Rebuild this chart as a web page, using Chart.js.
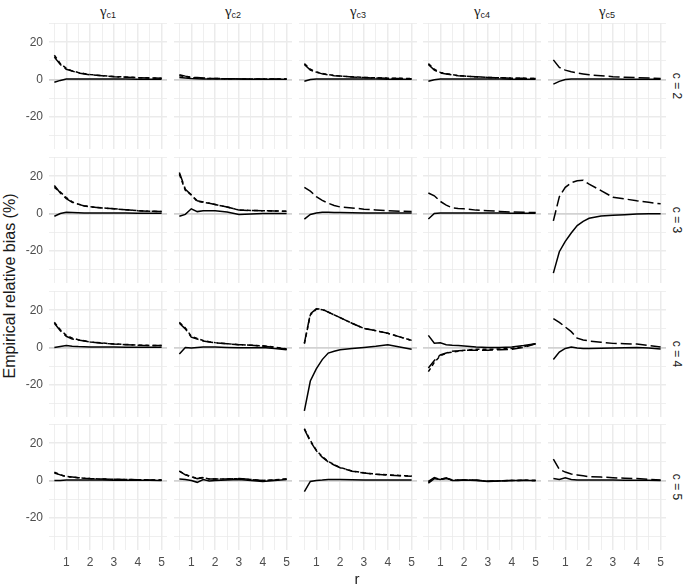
<!DOCTYPE html>
<html>
<head>
<meta charset="utf-8">
<script src="https://cdn.jsdelivr.net/npm/chart.js@4"></script>
<style>
  body { margin: 0; background: #fff; }
  #wrap { position: relative; width: 685px; height: 587px; font-family: "Liberation Sans", Arial, sans-serif; color: #1a1a1a; }
  .pane { position: absolute; }
  .strip { position: absolute; font-size: 12px; text-align: center; white-space: nowrap; }
  .gam { font-family: "Liberation Serif", serif; font-size: 15px; }
  .gam sub { font-family: "Liberation Sans", sans-serif; font-size: 9px; vertical-align: -2px; }
  .rot { transform: translate(-50%, -50%) rotate(90deg); }
  .ytitle { position: absolute; font-size: 16px; white-space: nowrap; transform: translate(-50%, -50%) rotate(-90deg); }
  .xtitle { position: absolute; font-size: 15px; transform: translate(-50%, -50%); }
</style>
</head>
<body>
<div id="wrap"></div>
<script>
// r grid shared by every panel
var R = [0.5, 0.75, 1, 1.25, 1.5, 1.75, 2, 2.5, 3, 3.5, 4, 4.5, 5];
var COL_SUBS = ['c1', 'c2', 'c3', 'c4', 'c5'];
var ROW_LABELS = ['c = 2', 'c = 3', 'c = 4', 'c = 5'];
var X_GRID = [0.5, 1, 1.5, 2, 2.5, 3, 3.5, 4, 4.5, 5];
var X_LABELS = [1, 2, 3, 4, 5];
var Y_GRID = [-30, -20, -10, 0, 10, 20, 30];
var Y_LABELS = [-20, 0, 20];

// one array per row (c), one entry per column (gamma_c1..gamma_c5)
var solidC2 = [
  [-1.5, -0.5, 0.2, 0.3, 0.3, 0.3, 0.3, 0.2, 0.2, 0.2, 0.1, 0.1, 0.1],
  [1, 0.8, 0.5, 0.4, 0.3, 0.3, 0.2, 0.2, 0.2, 0.1, 0.1, 0.1, 0.1],
  [-1, 0, 0.3, 0.3, 0.3, 0.3, 0.3, 0.2, 0.2, 0.2, 0.1, 0.1, 0.1],
  [-1, -0.2, 0.3, 0.3, 0.3, 0.3, 0.3, 0.2, 0.2, 0.2, 0.1, 0.1, 0.1],
  [-2.5, -1, 0, 0.2, 0.2, 0.2, 0.2, 0.2, 0.2, 0.1, 0.1, 0.1, 0.1]
];
var longC2 = [
  [12, 8, 5.5, 4.5, 3.5, 3, 2.5, 2, 1.5, 1.2, 1, 0.8, 0.6],
  [2.5, 1.8, 1.2, 1, 0.8, 0.6, 0.5, 0.4, 0.3, 0.3, 0.2, 0.2, 0.2],
  [8, 5, 4, 3, 2.5, 2, 1.8, 1.3, 1, 0.8, 0.6, 0.5, 0.4],
  [8, 5, 3.5, 3, 2.5, 2, 1.8, 1.4, 1.1, 0.9, 0.7, 0.6, 0.5],
  [10.5, 6.5, 5, 4.2, 3.5, 3, 2.5, 2, 1.5, 1.2, 1, 0.8, 0.5]
];
var shortC2 = [
  [13, 8.5, 6, 4.5, 3.8, 3.2, 2.7, 2, 1.6, 1.3, 1, 0.8, 0.6],
  [2, 1.5, 1, 0.8, 0.6, 0.5, 0.5, 0.4, 0.3, 0.3, 0.2, 0.2, 0.2],
  [8.5, 5.5, 4, 3.2, 2.6, 2.2, 1.8, 1.4, 1.1, 0.9, 0.7, 0.6, 0.5],
  [8.5, 5.5, 3.8, 3.1, 2.6, 2.1, 1.8, 1.4, 1.1, 0.9, 0.7, 0.6, 0.5],
  null
];

var solidC3 = [
  [-1.5, 0, 0.6, 0.5, 0.4, 0.3, 0.3, 0.2, 0.2, 0.2, 0.1, 0.1, 0.1],
  [-1.5, -0.5, 2.5, 1, 1.5, 1.5, 1.5, 0.8, -0.5, -0.3, 0, 0, 0],
  [-3, -0.5, 0.3, 0.7, 0.6, 0.5, 0.5, 0.4, 0.3, 0.3, 0.2, 0.2, 0.2],
  [-3, 0, 0.3, 0.3, 0.3, 0.3, 0.3, 0.2, 0.2, 0.2, 0.1, 0.1, 0.1],
  [-32, -20.5, -15, -10.5, -6.5, -4.2, -2.6, -1.3, -1, -0.7, -0.3, -0.1, -0.1]
];
var longC3 = [
  [15, 11, 8, 6, 5, 4, 3.5, 3, 2.5, 2, 1.5, 1.2, 1],
  [22, 13, 10, 6.8, 6.2, 5.5, 4.8, 3.5, 1.8, 1.6, 1.5, 1.3, 1.2],
  [14, 12, 9, 7, 5.5, 4.3, 3.5, 3, 2.3, 1.9, 1.5, 1.2, 1],
  [11, 9.5, 6.5, 4.5, 3, 2.7, 2.5, 1.8, 1.5, 1.1, 0.8, 0.6, 0.5],
  [-4, 9, 14, 16.5, 17.5, 17.8, 15.7, 12.3, 8.7, 7.8, 6.8, 6, 5.2]
];
var shortC3 = [
  [14, 11.5, 8.5, 6.2, 5, 4.2, 3.6, 3, 2.5, 2, 1.5, 1.2, 1],
  [21, 12.5, 10, 6.5, 6, 5.5, 4.8, 3.5, 1.8, 1.6, 1.5, 1.3, 1.2],
  null,
  null,
  null
];

var solidC4 = [
  [0, 0.5, 1, 0.7, 0.5, 0.4, 0.3, 0.2, 0.2, 0.1, 0.1, 0.1, 0.1],
  [-3.5, 0, -0.3, 0, 0.2, 0.3, 0.3, 0, -0.2, -0.1, 0, -0.5, -1.2],
  [-34, -18, -11.5, -6.5, -3, -2, -1.2, -0.6, 0, 0.6, 1.4, 0.3, -0.9],
  [6.5, 2.3, 2.5, 1.5, 1.2, 1, 0.8, 0.2, 0, 0, 0.2, 1, 2],
  [-6.5, -2.5, -0.5, 0.3, -0.3, -0.5, -0.5, -0.4, -0.3, -0.1, 0, -0.3, -0.8]
];
var longC4 = [
  [13, 9, 6, 4.5, 4, 3.5, 3, 2.3, 1.8, 1.5, 1.2, 1.1, 1],
  [13, 10, 5.5, 4.5, 3.5, 3, 2.5, 2, 1.5, 1.2, 0.8, 0, -1],
  [2.3, 18, 20.8, 20.5, 19, 17.5, 16, 13, 10.2, 9, 7.6, 5.7, 3.8],
  [-11, -7, -4, -3, -2, -1.8, -1.5, -1.5, -1.5, -1.2, -1, 0, 2],
  [15.5, 13.5, 11, 8.5, 5, 4, 3.5, 2.8, 2.2, 2, 1.8, 1, 0.3]
];
var shortC4 = [
  [13.5, 9.5, 6.5, 5, 4.2, 3.6, 3, 2.4, 1.9, 1.6, 1.3, 1.1, 1],
  [13.5, 10.5, 6, 4.8, 3.7, 3.1, 2.6, 2, 1.5, 1.2, 0.9, 0.2, -0.8],
  [2, 17.5, 20.5, 20.3, 19, 17.5, 16, 13, 10.2, 9, 7.6, 5.7, 3.8],
  [-13, -8, -4.5, -3, -2.5, -2, -1.5, -1, -1, -0.8, -0.5, 0.5, 2],
  null
];

var solidC5 = [
  [0, 0, 0.3, 0.3, 0.3, 0.2, 0.2, 0.2, 0.1, 0.1, 0.1, 0.1, 0],
  [0.8, 0.5, 0, -1, 0.5, -0.3, 0, 0.2, 0.5, 0, -0.5, 0, 0.5],
  [-6, -0.5, 0, 0.2, 0.5, 0.5, 0.5, 0.4, 0.3, 0.2, 0.2, 0.2, 0.2],
  [-1.5, 1, 0.5, 1.5, 0, 0, 0.2, 0, -0.5, -0.3, 0, 0, 0],
  [1, 0.5, 1.5, 0.5, 0.3, 0.3, 0.2, 0.2, 0.2, 0.1, 0.1, 0.1, 0]
];
var longC5 = [
  [4, 3, 2, 1.8, 1.5, 1.2, 1, 0.8, 0.6, 0.5, 0.4, 0.3, 0.3],
  [5, 3, 2, 1, 1.5, 0.8, 0.8, 0.8, 1, 0.5, 0, 0.3, 0.8],
  [27.5, 21, 16, 12.5, 10, 8.3, 6.8, 5, 4, 3.3, 2.9, 2.6, 2.3],
  [-0.5, 1.5, 0.5, 1, 0.2, 0.2, 0.3, 0.2, -0.3, -0.2, 0, 0.1, 0],
  [11.5, 6, 4.5, 3.5, 3, 2.5, 2, 1.8, 1.5, 1.2, 1, 0.6, 0.2]
];
var shortC5 = [
  [4.5, 3, 2.2, 1.8, 1.5, 1.2, 1, 0.8, 0.6, 0.5, 0.4, 0.3, 0.3],
  [5, 3.2, 2, 1.2, 1.6, 0.8, 0.8, 0.8, 1, 0.5, 0, 0.3, 0.8],
  [27.8, 21.5, 16.3, 12.8, 10.2, 8.5, 7, 5.1, 4.1, 3.4, 3, 2.7, 2.4],
  [-1, 1.2, 0.8, 1.2, 0.3, 0.1, 0.3, 0.1, -0.4, -0.2, 0, 0.1, 0],
  null
];

var SOLID = [solidC2, solidC3, solidC4, solidC5];
var LONG = [longC2, longC3, longC4, longC5];
var SHORT = [shortC2, shortC3, shortC4, shortC5];

// panel geometry
var PANEL_LEFT = [49, 174, 299, 423, 548];
var PANEL_TOP = [23, 157, 291, 424];
var PANEL_W = 118, PANEL_H = 126;
var Y_AXIS_W = 30, X_AXIS_H = 22;
var FONT = '"Liberation Sans", Arial, sans-serif';

function points(vals) {
  return R.map(function(r, i) { return {x: r, y: vals[i]}; });
}

function gridColor(ctx, zeroLine) {
  if (zeroLine && ctx.tick && ctx.tick.value === 0) return '#d2d2d2';
  return '#ebebeb';
}

function gridWidth(ctx, majors, zeroLine) {
  var v = ctx.tick ? ctx.tick.value : null;
  if (zeroLine && v === 0) return 1.8;
  return majors.indexOf(v) >= 0 ? 1.5 : 0.8;
}

function makePanel(wrap, row, col) {
  var isLeft = col === 0, isBottom = row === 3;
  var div = document.createElement('div');
  div.className = 'pane';
  var w = PANEL_W + (isLeft ? Y_AXIS_W : 0);
  var h = PANEL_H + (isBottom ? X_AXIS_H : 0);
  div.style.left = (PANEL_LEFT[col] - (isLeft ? Y_AXIS_W : 0)) + 'px';
  div.style.top = PANEL_TOP[row] + 'px';
  div.style.width = w + 'px';
  div.style.height = h + 'px';
  var canvas = document.createElement('canvas');
  div.appendChild(canvas);
  wrap.appendChild(div);

  var datasets = [];
  var series = [
    {vals: SOLID[row][col], dash: []},
    {vals: LONG[row][col], dash: [11, 4]},
    {vals: SHORT[row][col], dash: [4, 3]}
  ];
  series.forEach(function(s) {
    if (!s.vals) return;
    datasets.push({
      data: points(s.vals),
      borderColor: '#000000',
      borderWidth: 1.5,
      borderDash: s.dash,
      pointRadius: 0,
      fill: false,
      tension: 0
    });
  });

  new Chart(canvas.getContext('2d'), {
    type: 'line',
    data: {datasets: datasets},
    options: {
      responsive: true,
      maintainAspectRatio: false,
      animation: false,
      layout: {padding: 0},
      plugins: {legend: {display: false}, tooltip: {enabled: false}},
      scales: {
        x: {
          type: 'linear',
          min: 0.275,
          max: 5.225,
          afterBuildTicks: function(s) { s.ticks = X_GRID.map(function(v) { return {value: v}; }); },
          afterFit: function(s) {
            s.height = isBottom ? X_AXIS_H : 0;
            s.paddingLeft = 0; s.paddingRight = 0;
          },
          border: {display: false},
          grid: {
            drawTicks: false,
            color: function(ctx) { return gridColor(ctx, false); },
            lineWidth: function(ctx) { return gridWidth(ctx, X_LABELS, false); }
          },
          ticks: {
            display: isBottom,
            autoSkip: false,
            maxRotation: 0,
            padding: 5,
            color: '#4d4d4d',
            font: {family: FONT, size: 12},
            callback: function(v) { return X_LABELS.indexOf(v) >= 0 ? String(v) : ''; }
          }
        },
        y: {
          type: 'linear',
          min: -37.3,
          max: 30.3,
          afterBuildTicks: function(s) { s.ticks = Y_GRID.map(function(v) { return {value: v}; }); },
          afterFit: function(s) {
            s.width = isLeft ? Y_AXIS_W : 0;
            s.paddingTop = 0; s.paddingBottom = 0;
          },
          border: {display: false},
          grid: {
            drawTicks: false,
            color: function(ctx) { return gridColor(ctx, true); },
            lineWidth: function(ctx) { return gridWidth(ctx, Y_LABELS, true); }
          },
          ticks: {
            display: isLeft,
            autoSkip: false,
            padding: 6,
            color: '#4d4d4d',
            font: {family: FONT, size: 12},
            callback: function(v) { return Y_LABELS.indexOf(v) >= 0 ? String(v) : ''; }
          }
        }
      }
    }
  });
}

window.onload = function() {
  var wrap = document.getElementById('wrap');
  for (var row = 0; row < 4; row++) {
    for (var col = 0; col < 5; col++) makePanel(wrap, row, col);
  }

  // facet strips on top
  COL_SUBS.forEach(function(sub, col) {
    var s = document.createElement('div');
    s.className = 'strip';
    s.innerHTML = '<span class="gam">\u03b3<sub>' + sub + '</sub></span>';
    s.style.left = (PANEL_LEFT[col] + PANEL_W / 2) + 'px';
    s.style.top = '11px';
    s.style.transform = 'translate(-50%, -50%)';
    wrap.appendChild(s);
  });

  // facet strips on the right
  ROW_LABELS.forEach(function(lab, row) {
    var s = document.createElement('div');
    s.className = 'strip rot';
    s.textContent = lab;
    s.style.left = '677px';
    s.style.top = (PANEL_TOP[row] + PANEL_H / 2) + 'px';
    wrap.appendChild(s);
  });

  var yt = document.createElement('div');
  yt.className = 'ytitle';
  yt.textContent = 'Empirical relative bias (%)';
  yt.style.left = '10px';
  yt.style.top = '286px';
  wrap.appendChild(yt);

  var xt = document.createElement('div');
  xt.className = 'xtitle';
  xt.textContent = 'r';
  xt.style.left = '357px';
  xt.style.top = '578px';
  wrap.appendChild(xt);
};
</script>
</body>
</html>
